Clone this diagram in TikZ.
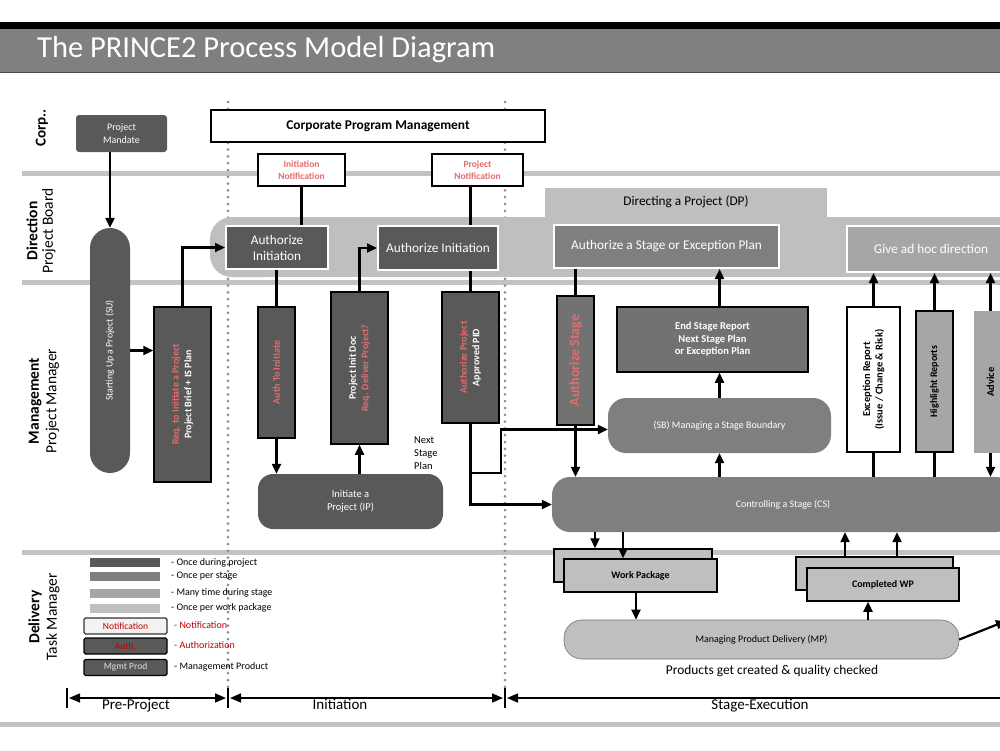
\documentclass[tikz,border=0pt]{standalone}
\usepackage{fontspec}
\setmainfont{Carlito}
\usetikzlibrary{arrows.meta}
\definecolor{cA}{HTML}{595959}
\definecolor{cB}{HTML}{7F7F7F}
\definecolor{cBd}{HTML}{727272}
\definecolor{cC}{HTML}{A6A6A6}
\definecolor{cD}{HTML}{BFBFBF}
\definecolor{sepc}{HTML}{C3C3C3}
\definecolor{rd}{HTML}{E46C6C}
\definecolor{drd}{HTML}{C00000}
\definecolor{dotc}{HTML}{8F8F8F}
\definecolor{lite}{HTML}{F2F2F2}
\definecolor{titlegray}{HTML}{808080}
\begin{document}
\begin{tikzpicture}[x=1pt,y=-1pt,
  fs/.style 2 args={font=\fontsize{#1}{#2}\selectfont},
  fsb/.style 2 args={font=\fontsize{#1}{#2}\selectfont\bfseries},
  arr/.style={line width=2.2pt, -{Triangle[length=10pt,width=9pt]}},
  ln/.style={line width=2.2pt},
  sep/.style={sepc, line width=5pt},
  dots/.style={dotc, line width=3pt, line cap=round, dash pattern=on 0pt off 6.8pt},
  procbtn/.style={draw=white, line width=2pt, text=white, fs={13.3}{16}, align=center, inner sep=0pt},
  mbox/.style={draw=black, line width=1.5pt, inner sep=0pt},
  pill/.style={rounded corners=#1, inner sep=0pt, align=center},
  rtext/.style={rotate=90, align=center, inner sep=0pt},
  lgbar/.style={minimum width=70, minimum height=9, inner sep=0pt},
  lgbox/.style={draw=#1, line width=1.2pt, minimum width=83, minimum height=16, inner sep=0pt, rounded corners=1.5, fs={9.5}{10}},
  lglab/.style={anchor=west, inner sep=0pt, fs={10}{11}},
  tl/.style={line width=1.6pt},
  tick/.style={line width=2.8pt},
]
\useasboundingbox (0,0) rectangle (1000,750);
\fill[white] (0,0) rectangle (1000,750);

% title
\fill[black] (0,22) rectangle (1000,29);
\fill[titlegray] (0,29) rectangle (1000,72);
\draw[black!70, line width=0.8pt] (0,72) -- (1000,72);
\node[anchor=west, text=white, fs={30.5}{34}, inner sep=0pt] (title) at (37,50) {The PRINCE2 Process Model Diagram};

% lane separators
\draw[sep] (22,173) -- (1000,173);
\draw[sep] (22,282) -- (1000,282);
\draw[sep] (22,552) -- (1000,552);
\draw[sep] (0,724) -- (1000,724);

% phase dotted lines
\draw[dots] (228,102) -- (228,688);
\draw[dots] (505,102) -- (505,688);

% lane labels
\node[rotate=90, fsb={15}{17}, inner sep=0pt] (lcorp) at (42,128) {Corp..};
\node[rotate=90, align=center, fs={15.5}{15.5}, inner sep=0pt] (ldir) at (41,231) {\textbf{Direction}\\Project Board};
\node[rotate=90, align=center, fs={15.5}{17.5}, inner sep=0pt] (lman) at (44,401) {\textbf{Management}\\Project Manager};
\node[rotate=90, align=center, fs={15.5}{17.5}, inner sep=0pt] (ldel) at (44,617) {\textbf{Delivery}\\Task Manager};

% Directing a project band
\fill[cD] (545,188) rectangle (827,218);
\fill[cD, rounded corners=22] (210,217) rectangle (290,277);
\fill[cD] (250,217) rectangle (1000,277);
\node[fs={13.3}{15}] (dp) at (686,202) {Directing a Project (DP)};

% corporate
\node[draw=black, line width=1.5pt, fill=white, minimum width=334, minimum height=32, inner sep=0pt, fsb={13.4}{15}] (cpm) at (378,126) {Corporate Program Management};
\node[fill=cA, rounded corners=3, minimum width=91, minimum height=37, inner sep=0pt, text=white, align=center, fs={10}{13}] (mandate) at (121.5,133.5) {Project\\Mandate};
\node[mbox, fill=white, minimum width=87, minimum height=32, text=rd, align=center, fsb={9.5}{12}] (initnote) at (301.5,170) {Initiation\\Notification};
\node[mbox, fill=white, minimum width=91, minimum height=32, text=rd, align=center, fsb={9.5}{12}] (projnote) at (477.5,170) {Project\\Notification};

% direction boxes
\node[procbtn, fill=cA, minimum width=102, minimum height=43] (ai1) at (277,247.5) {Authorize\\Initiation};
\node[procbtn, fill=cA, minimum width=120, minimum height=44] (ai2) at (438,248) {Authorize Initiation};
\node[procbtn, fill=cB, minimum width=225, minimum height=43] (asep) at (666.5,246.5) {Authorize a Stage or Exception Plan};
\node[procbtn, fill=cC, minimum width=168, minimum height=46] (adhoc) at (931,249) {Give ad hoc direction};

% starting up
\node[pill=20, fill=cA, minimum width=40, minimum height=245] (su) at (110,350.5) {};
\node[rtext, text=white, fs={9.8}{11}] (suT) at (su) {Starting Up a Project (SU)};
\node[mbox, fill=cA, minimum width=57, minimum height=175] (req) at (182.5,394.5) {};
\node[rtext, fsb={10}{12.5}] (reqT) at (req) {\textcolor{rd}{Req. to Initiate a Project}\\\textcolor{white}{Project Brief + IS Plan}};

% initiation
\node[mbox, fill=cA, minimum width=37, minimum height=131] (authinit) at (276.5,372.5) {};
\node[rtext, fsb={10}{12}, text=rd] (authinitT) at (authinit) {Auth To Initiate};
\node[mbox, fill=cA, minimum width=57, minimum height=152] (pid) at (359.5,368) {};
\node[rtext, fsb={10}{12.5}] (pidT) at (pid) {\textcolor{white}{Project Init Doc}\\\textcolor{rd}{Req. Deliver Project?}};
\node[pill=15, fill=cA, minimum width=185, minimum height=55, text=white, fs={10.5}{13}] (ip) at (350.5,501.5) {Initiate a\\Project (IP)};
\node[anchor=north west, align=left, inner sep=0pt, fs={10.5}{13}] (nsp) at (414,437) {Next\\Stage\\Plan};
\node[mbox, fill=cA, minimum width=57, minimum height=131] (authproj) at (470.5,357.5) {};
\node[rtext, fsb={10}{12.5}] (authprojT) at (authproj) {\textcolor{rd}{Authorize Project}\\\textcolor{white}{Approved PID}};

% stage execution - management
\node[mbox, fill=cBd, minimum width=37, minimum height=129] (authstage) at (575.5,360.5) {};
\node[rtext, fsb={14}{15}, text=rd] (authstageT) at (authstage) {Authorize Stage};
\node[mbox, fill=cBd, minimum width=191, minimum height=65, text=white, align=center, fsb={10.5}{12.5}] (esr) at (712.5,339.5) {End Stage Report\\Next Stage Plan\\or Exception Plan};
\node[pill=18, fill=cB, minimum width=223, minimum height=55, text=white, fs={10}{12}] (sb) at (719.5,425.5) {(SB) Managing a Stage Boundary};
\node[mbox, fill=white, minimum width=53, minimum height=145] (exrep) at (873.5,379.5) {};
\node[rtext, fsb={10.5}{12.5}] (exrepT) at (exrep) {Exception Report\\(Issue / Change \& Risk)};
\node[mbox, fill=cC, minimum width=37, minimum height=141] (hl) at (934.5,381.5) {};
\node[rtext, fsb={10}{12}] (hlT) at (hl) {Highlight Reports};
\node[fill=cC, minimum width=33, minimum height=142, inner sep=0pt] (advice) at (990.5,382) {};
\node[rtext, fsb={10.5}{12}] (adviceT) at (advice) {Advice};
\node[pill=18, fill=cB, minimum width=462, minimum height=55, text=white, fs={10}{12}] (cs) at (783,504.5) {Controlling a Stage (CS)};

% delivery
\node[mbox, fill=cD, minimum width=158, minimum height=33] (wpback) at (633,565.5) {};
\node[mbox, fill=cD, minimum width=153, minimum height=33, fsb={10}{12}] (wp) at (640.5,575.5) {Work Package};
\node[mbox, fill=cD, minimum width=157, minimum height=33] (cwpback) at (874.5,573.5) {};
\node[mbox, fill=cD, minimum width=152, minimum height=33, fsb={10}{12}] (cwp) at (883,584.5) {Completed WP};
\node[pill=18, draw=black!55, line width=0.6pt, fill=cD, minimum width=395, minimum height=39, fs={10}{12}] (mp) at (761.5,639.5) {Managing Product Delivery (MP)};
\node[anchor=base, inner sep=0pt, fs={13.4}{15}] (prod) at (772,674) {Products get created \& quality checked};
\coordinate (offr) at (1006,621);

% legend
\node[lgbar, fill=cA] (lg1) at (125,562.5) {};
\node[lgbar, fill=cB] (lg2) at (125,576.5) {};
\node[lgbar, fill=cC] (lg3) at (125,593) {};
\node[lgbar, fill=cD] (lg4) at (125,608) {};
\node[lglab] (lg1t) at (171,562.5) {- Once during project};
\node[lglab] (lg2t) at (171,576.5) {- Once per stage};
\node[lglab] (lg3t) at (171,593) {- Many time during stage};
\node[lglab] (lg4t) at (171,608) {- Once per work package};
\node[lgbox=black!80, fill=lite, text=drd] (lg5) at (125.5,626) {Notification};
\node[lgbox=black, fill=cA, text=drd] (lg6) at (125.5,646) {Auth.};
\node[lgbox=black, fill=cA, text=black!12] (lg7) at (125.5,667.5) {Mgmt Prod};
\node[lglab, text=drd] (lg5t) at (174,625) {- Notification};
\node[lglab, text=drd] (lg6t) at (174,645.5) {- Authorization};
\node[lglab] (lg7t) at (174,666.5) {- Management Product};

% connectors
\draw[arr] (mandate.south -| su) -- (su.north);
\draw[arr] (su.east) -- (su.east -| req.west);
\draw[arr] (req.north) |- (ai1.west);
\draw[ln] (initnote.south) -- (initnote.south |- ai1.north);
\draw[ln] (ai1.south -| authinit) -- (authinit.north);
\draw[arr] (authinit.south) -- (authinit.south |- ip.north);
\draw[arr] (ip.north -| pid) -- (pid.south);
\draw[arr] (pid.north) |- (ai2.west);
\draw[ln] (projnote.south -| authproj) -- (ai2.north -| authproj);
\draw[ln] (ai2.south -| authproj) -- (authproj.north);
\coordinate (bendA) at (501,473);
\draw[arr] (authproj.south) |- (bendA) |- ([yshift=-4]sb.west);
\draw[arr] (authproj.south) |- (cs.west);
\draw[ln] (asep.south -| authstage) -- (authstage.north);
\draw[arr] (authstage.south) -- (authstage.south |- cs.north);
\draw[arr] (esr.north -| sb) -- (asep.south -| sb);
\draw[arr] (sb.north) -- (esr.south -| sb);
\draw[arr] (cs.north -| sb) -- (sb.south);
\draw[ln] (cs.north -| exrep) -- (exrep.south);
\draw[arr] (exrep.north) -- (adhoc.south -| exrep);
\draw[ln] (cs.north -| hl) -- (hl.south);
\draw[arr] (hl.north) -- (adhoc.south -| hl);
\draw[arr] (advice.north) -- (adhoc.south -| advice);
\draw[arr] (advice.south) -- (cs.north -| advice);
\draw[arr] ([xshift=-38]wpback.north |- cs.south) -- ([xshift=-38]wpback.north);
\draw[arr] ([xshift=-17.5]wp.north |- cs.south) -- ([xshift=-17.5]wp.north);
\draw[arr] ([xshift=-4.5]wp.south) -- ([xshift=-4.5]wp.south |- mp.north);
\draw[arr] ([xshift=-29.5]cwpback.north) -- ([xshift=-29.5]cwpback.north |- cs.south);
\draw[arr] ([xshift=22.5]cwpback.north) -- ([xshift=22.5]cwpback.north |- cs.south);
\draw[arr] ([xshift=-15]cwp.south |- mp.north) -- ([xshift=-15]cwp.south);
\draw[arr] (mp.east) -- (offr);

% timeline
\coordinate (t0) at (67,698);
\coordinate (t1) at (228,698);
\coordinate (t2) at (505,698);
\coordinate (t3) at (1000,698);
\draw[tick] ([yshift=10]t0) -- ([yshift=-10]t0);
\draw[tick] ([yshift=10]t1) -- ([yshift=-10]t1);
\draw[tick] ([yshift=10]t2) -- ([yshift=-10]t2);
\draw[tl, {Triangle[length=11pt,width=9pt]}-{Triangle[length=11pt,width=9pt]}] ([xshift=2]t0) -- ([xshift=-2]t1);
\draw[tl, {Triangle[length=11pt,width=9pt]}-{Triangle[length=11pt,width=9pt]}] ([xshift=2]t1) -- ([xshift=-2]t2);
\draw[tl, {Triangle[length=11pt,width=9pt]}-] ([xshift=2]t2) -- (t3);
\node[anchor=base, inner sep=0pt, fs={15}{16}] (ph1) at (136,709) {Pre-Project};
\node[anchor=base, inner sep=0pt, fs={15}{16}] (ph2) at (340,709) {Initiation};
\node[anchor=base, inner sep=0pt, fs={15}{16}] (ph3) at (760,709) {Stage-Execution};
\end{tikzpicture}
\end{document}
